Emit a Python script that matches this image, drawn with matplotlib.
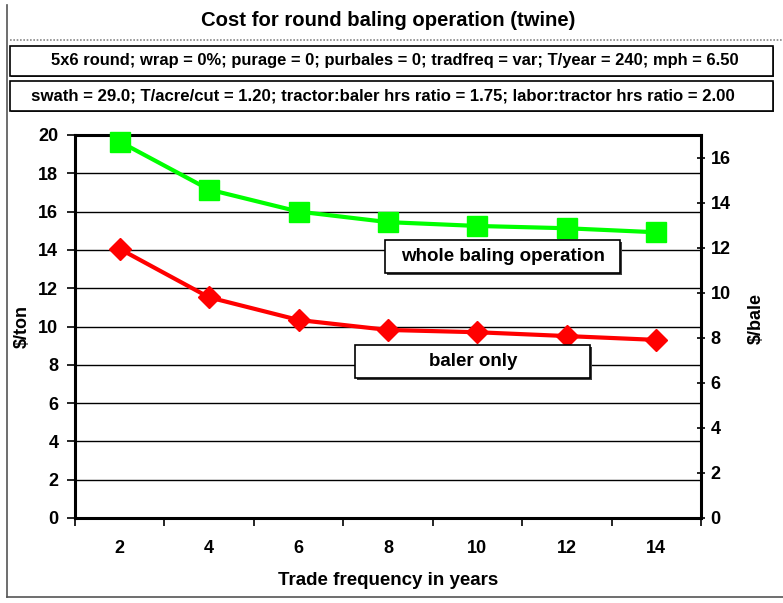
import numpy as np
from matplotlib import pyplot as plt
from matplotlib.patches import Rectangle
from matplotlib.lines import Line2D

# data
freq = ['2', '4', '6', '8', '10', '12', '14']
whole_op = [19.65, 17.15, 16.0, 15.45, 15.25, 15.13, 14.92]   # $/ton
baler_only = [14.05, 11.52, 10.34, 9.82, 9.70, 9.50, 9.30]   # $/ton

TITLE = 'Cost for round baling operation (twine)'
SUB1 = '5x6 round; wrap = 0%; purage = 0; purbales = 0; tradfreq = var; T/year = 240; mph = 6.50'
SUB2 = 'swath = 29.0; T/acre/cut = 1.20; tractor:baler hrs ratio = 1.75; labor:tractor hrs ratio = 2.00'

W, H = 783, 603
plt.rcParams['font.family'] = ['Liberation Sans', 'DejaVu Sans']
plt.rcParams['font.weight'] = 'bold'

fig = plt.figure(figsize=(W/100, H/100), dpi=100)


def fx(x):
    return x / W


def fy(y):
    return 1 - y / H


def box(x0, y0, x1, y1, shadow=2):
    # white box with thin dark shadow, pixel coords from top-left
    if shadow:
        fig.add_artist(Rectangle((fx(x0 + shadow), fy(y1 + shadow)), fx(x1 - x0), (y1 - y0) / H,
                                 transform=fig.transFigure, facecolor='#404040', edgecolor='none', zorder=5))
    fig.add_artist(Rectangle((fx(x0), fy(y1)), fx(x1 - x0), (y1 - y0) / H,
                             transform=fig.transFigure, facecolor='white', edgecolor='black', lw=1.2, zorder=6))


# outer frame
fig.add_artist(Line2D([fx(7), fx(7)], [fy(5), fy(597)], color='#555555', lw=1.2, transform=fig.transFigure))
fig.add_artist(Line2D([fx(7), fx(783)], [fy(597), fy(597)], color='#555555', lw=1.2, transform=fig.transFigure))
fig.add_artist(Line2D([fx(10), fx(783)], [fy(40), fy(40)], color='#888888', lw=1.2, ls=(0, (1, 1)),
                      transform=fig.transFigure))

fig.text(fx(388), fy(21), TITLE, ha='center', va='center', fontsize=14.6, fontweight='bold')
box(10, 46, 773, 76, shadow=1)
fig.text(fx(395), fy(61), SUB1, ha='center', va='center', fontsize=11.9, fontweight='bold', zorder=7)
box(10, 81, 773, 111, shadow=1)
fig.text(fx(383), fy(96), SUB2, ha='center', va='center', fontsize=12.1, fontweight='bold', zorder=7)

ax = fig.add_axes([fx(75), fy(518), fx(701 - 75), (518 - 135) / H])
x = np.arange(len(freq))
ax.plot(x, whole_op, color='#00ff00', lw=3, marker='s', ms=14, zorder=4, clip_on=False)
ax.plot(x, baler_only, color='#ff0000', lw=3, marker='D', ms=11, zorder=4, clip_on=False)

ax.set_xlim(-0.5, len(freq) - 0.5)
ax.set_ylim(0, 20)
ax.set_yticks(np.arange(0, 21, 2))
ax.yaxis.grid(True, color='black', lw=1)
ax.set_axisbelow(True)
ax.set_xticks(x)
ax.set_xticklabels(freq)
ax.set_xticks(np.arange(-0.5, len(freq), 1), minor=True)
ax.tick_params(axis='x', which='major', length=0, pad=16, labelsize=13)
ax.tick_params(axis='x', which='minor', length=6, width=1.2, direction='out')
ax.tick_params(axis='y', length=6, width=1.2, labelsize=13, pad=6)
for s in ax.spines.values():
    s.set_linewidth(2.2)
ax.set_ylabel('$/ton', fontsize=13, fontweight='bold')
ax.yaxis.set_label_coords(-0.071, 0.5)
ax.set_xlabel('Trade frequency in years', fontsize=13.5, fontweight='bold')
ax.xaxis.set_label_coords(0.5, -0.141)

ax2 = ax.twinx()
ax2.set_ylim(0, 17)
ax2.set_yticks(np.arange(0, 17, 2))
ax2.tick_params(axis='y', length=6, width=1.2, direction='inout', labelsize=13, pad=4)
for s in ax2.spines.values():
    s.set_visible(False)
ax2.set_ylabel('$/bale', fontsize=13, fontweight='bold')
ax2.yaxis.set_label_coords(1.075, 0.52)

box(385, 240, 620, 273)
fig.text(fx(503), fy(256), 'whole baling operation', ha='center', va='center', fontsize=13.5,
         fontweight='bold', zorder=7)
box(355, 345, 590, 378)
fig.text(fx(473), fy(361), 'baler only', ha='center', va='center', fontsize=13.5,
         fontweight='bold', zorder=7)

fig.savefig('out.png', dpi=100)
